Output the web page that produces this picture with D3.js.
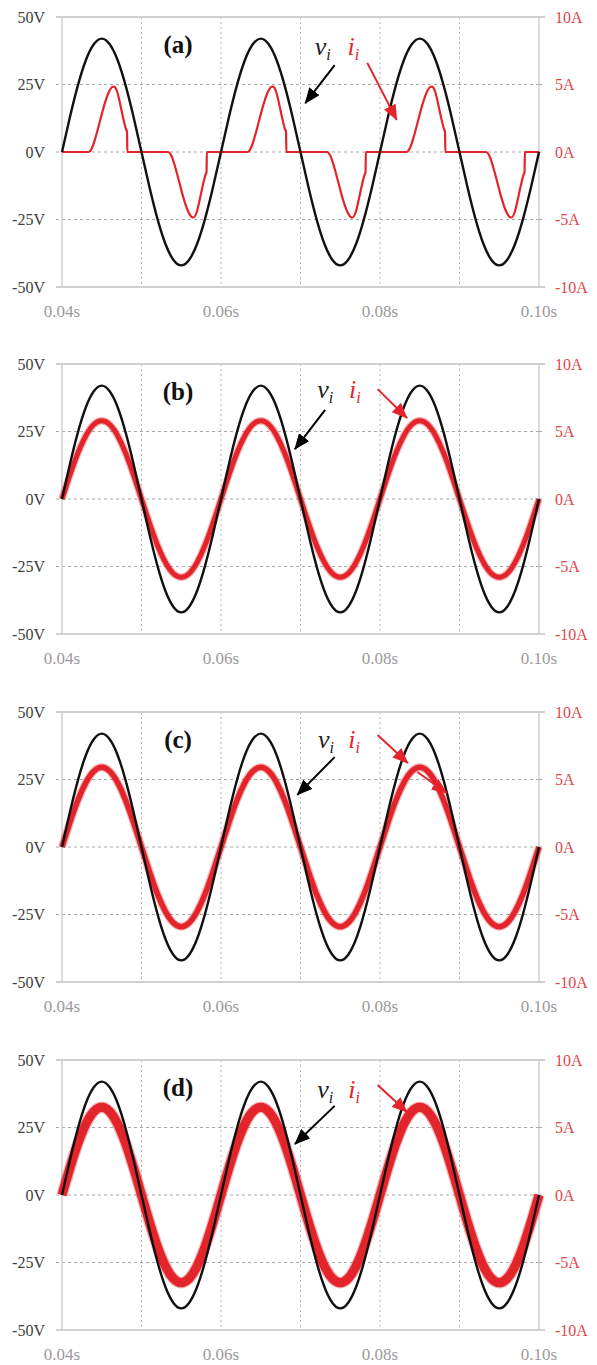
<!DOCTYPE html>
<html>
<head>
<meta charset="utf-8">
<script src="https://cdn.jsdelivr.net/npm/d3@7"></script>
<style>
  body { margin: 0; background: #fff; }
  svg { display: block; }
  text { font-family: "Liberation Serif", "DejaVu Serif", serif; }
</style>
</head>
<body>
<svg id="chart" width="597" height="1365"></svg>
<script>
// ---- data ----
var panelNames = ["(a)", "(b)", "(c)", "(d)"];
var timeTicks = [0.04, 0.05, 0.06, 0.07, 0.08, 0.09, 0.10];
var timeLabels = ["0.04s", "", "0.06s", "", "0.08s", "", "0.10s"];
var voltTicks = [50, 25, 0, -25, -50];
var voltLabels = ["50V", "25V", "0V", "-25V", "-50V"];
var ampLabels = ["10A", "5A", "0A", "-5A", "-10A"];

// one 20 ms period of v_i, sampled every 1 ms (V)
var vPeriod = [0, 13.0, 24.7, 34.0, 39.9, 42.0, 39.9, 34.0, 24.7, 13.0,
               0, -13.0, -24.7, -34.0, -39.9, -42.0, -39.9, -34.0, -24.7, -13.0];

// one period of i_i for (a): [ms, A] (discontinuous conduction)
var iPeriodA = [[0, 0], [3.33, 0], [3.77, 0.3], [4.28, 1.2], [4.78, 2.3], [5.28, 3.4],
  [5.79, 4.3], [6.29, 4.8], [6.54, 4.85], [6.92, 4.5], [7.30, 3.6], [7.67, 2.6],
  [8.05, 1.7], [8.18, 1.5], [8.22, 0], [10, 0], [13.33, 0], [13.77, -0.3],
  [14.28, -1.2], [14.78, -2.3], [15.28, -3.4], [15.79, -4.3], [16.29, -4.8],
  [16.54, -4.85], [16.92, -4.5], [17.30, -3.6], [17.67, -2.6], [18.05, -1.7],
  [18.18, -1.5], [18.22, 0]];

// one period of i_i for (b), (c), (d), sampled every 1 ms (A)
var iPeriodB = [0, 1.79, 3.41, 4.69, 5.52, 5.8, 5.52, 4.69, 3.41, 1.79,
                0, -1.79, -3.41, -4.69, -5.52, -5.8, -5.52, -4.69, -3.41, -1.79];
var iPeriodC = [0, 1.82, 3.47, 4.77, 5.61, 5.9, 5.61, 4.77, 3.47, 1.82,
                0, -1.82, -3.47, -4.77, -5.61, -5.9, -5.61, -4.77, -3.47, -1.82];
var iPeriodD = [0, 2.01, 3.82, 5.26, 6.18, 6.5, 6.18, 5.26, 3.82, 2.01,
                0, -2.01, -3.82, -5.26, -6.18, -6.5, -6.18, -5.26, -3.82, -2.01];

// annotation anchors in (s, V)
var vLabelAt = [[0.0718, 35.9], [0.0721, 37.4], [0.0722, 36.7], [0.0721, 35.9]];
var iLabelAt = [[0.0759, 35.9], [0.0761, 37.4], [0.0760, 36.7], [0.0760, 35.9]];
var vArrows = [[[0.0743, 32.2], [0.0706, 18.1]], [[0.0731, 33.0], [0.0693, 18.5]],
               [[0.0743, 33.3], [0.0696, 19.3]], [[0.0743, 33.0], [0.0693, 18.9]]];
var iArrows = [[[[0.0784, 33.0], [0.0821, 11.9]]],
               [[[0.0797, 40.7], [0.0834, 30.0]]],
               [[[0.0797, 41.5], [0.0835, 31.1]], [[0.0847, 27.8], [0.0884, 20.0]]],
               [[[0.0797, 40.7], [0.0834, 30.7]]]];
var panelLabelAt = [0.0546, 36.7];

// ---- layout ----
var panelTop = [17, 364, 712, 1060];
var plotH = 270, plotL = 62, plotR = 539;
var red = "#e3242b";

var svg = d3.select("#chart");

var defs = svg.append("defs");
function addHead(id, color) {
    defs.append("marker")
        .attr("id", id)
        .attr("markerUnits", "userSpaceOnUse")
        .attr("markerWidth", 16).attr("markerHeight", 13)
        .attr("refX", 15).attr("refY", 6.5)
        .attr("orient", "auto")
        .append("path")
        .attr("d", "M0,0 L16,6.5 L0,13 Z")
        .attr("fill", color);
}
addHead("headBlack", "#000");
addHead("headRed", red);

// tile a sampled period over 0.04..0.10 s
function tileEven(period) {
    var out = [];
    for (var k = 0; k < 3; k++) {
        period.forEach(function (v, j) {
            out.push([0.04 + k * 0.02 + j * 0.001, v]);
        });
    }
    out.push([0.10, period[0]]);
    return out;
}
function tilePairs(period) {
    var out = [];
    for (var k = 0; k < 3; k++) {
        period.forEach(function (p) {
            out.push([0.04 + k * 0.02 + p[0] / 1000, p[1]]);
        });
    }
    out.push([0.10, period[0][1]]);
    return out;
}

var vSeries = tileEven(vPeriod);
var iSeries = [tilePairs(iPeriodA), tileEven(iPeriodB), tileEven(iPeriodC), tileEven(iPeriodD)];
var iWidth = [2.2, 5, 5.5, 9];

var x = d3.scaleLinear().domain([0.04, 0.10]).range([plotL, plotR]);

panelNames.forEach(function (name, p) {
    var top = panelTop[p];
    var yV = d3.scaleLinear().domain([-50, 50]).range([top + plotH, top]);
    var yI = d3.scaleLinear().domain([-10, 10]).range([top + plotH, top]);
    var g = svg.append("g");

    // vertical dotted grid
    g.selectAll(".vg").data(timeTicks.slice(1, -1)).enter().append("line")
        .attr("x1", function (d) { return x(d); }).attr("x2", function (d) { return x(d); })
        .attr("y1", top).attr("y2", top + plotH)
        .attr("stroke", "#b5b5b5").attr("stroke-width", 1)
        .attr("stroke-dasharray", "2,3");

    // horizontal dashed grid
    g.selectAll(".hg").data([25, 0, -25]).enter().append("line")
        .attr("x1", plotL).attr("x2", plotR)
        .attr("y1", function (d) { return yV(d); }).attr("y2", function (d) { return yV(d); })
        .attr("stroke", "#a8a8a8").attr("stroke-width", 1)
        .attr("stroke-dasharray", "3,3");

    // frame (top, bottom, left, right)
    g.selectAll(".fr").data([50, -50]).enter().append("line")
        .attr("x1", plotL - 6).attr("x2", plotR + 6)
        .attr("y1", function (d) { return yV(d); }).attr("y2", function (d) { return yV(d); })
        .attr("stroke", "#cfcfcf").attr("stroke-width", 2);
    g.selectAll(".fv").data([0.04, 0.10]).enter().append("line")
        .attr("x1", function (d) { return x(d); }).attr("x2", function (d) { return x(d); })
        .attr("y1", top).attr("y2", top + plotH)
        .attr("stroke", "#cfcfcf").attr("stroke-width", 1.5);
    g.selectAll(".tkl").data([25, 0, -25]).enter().append("line")
        .attr("x1", plotL - 6).attr("x2", plotL)
        .attr("y1", function (d) { return yV(d); }).attr("y2", function (d) { return yV(d); })
        .attr("stroke", "#a8a8a8").attr("stroke-dasharray", "3,3");
    g.selectAll(".tkr").data([25, 0, -25]).enter().append("line")
        .attr("x1", plotR).attr("x2", plotR + 6)
        .attr("y1", function (d) { return yV(d); }).attr("y2", function (d) { return yV(d); })
        .attr("stroke", "#a8a8a8").attr("stroke-dasharray", "3,3");

    // left axis labels
    g.selectAll(".ll").data(voltTicks).enter().append("text")
        .attr("x", 45).attr("y", function (d) { return yV(d); })
        .attr("dy", "0.35em").attr("text-anchor", "end")
        .attr("font-size", 16).attr("fill", "#404040")
        .text(function (d, i) { return voltLabels[i]; });

    // right axis labels
    g.selectAll(".rl").data(voltTicks).enter().append("text")
        .attr("x", 555).attr("y", function (d) { return yV(d); })
        .attr("dy", "0.35em").attr("text-anchor", "start")
        .attr("font-size", 16).attr("fill", "#e0474c")
        .text(function (d, i) { return ampLabels[i]; });

    // time labels
    g.selectAll(".xl").data(timeTicks).enter().append("text")
        .attr("x", function (d) { return x(d); }).attr("y", top + plotH + 24)
        .attr("dy", "0.35em").attr("text-anchor", "middle")
        .attr("font-size", 17).attr("fill", "#9a9a9a")
        .text(function (d, i) { return timeLabels[i]; });

    // current
    var iLine = d3.line()
        .x(function (d) { return x(d[0]); })
        .y(function (d) { return yI(d[1]); })
        .curve(p === 0 ? d3.curveMonotoneX : d3.curveNatural);
    if (p > 0) {
        // soft halo for the switching ripple
        g.append("path").datum(iSeries[p])
            .attr("d", iLine).attr("fill", "none")
            .attr("stroke", red).attr("stroke-opacity", 0.35)
            .attr("stroke-width", iWidth[p] + 2.5)
            .attr("stroke-linejoin", "round");
    }
    g.append("path").datum(iSeries[p])
        .attr("d", iLine).attr("fill", "none")
        .attr("stroke", red).attr("stroke-width", iWidth[p])
        .attr("stroke-linejoin", "round");

    // voltage
    var vLine = d3.line()
        .x(function (d) { return x(d[0]); })
        .y(function (d) { return yV(d[1]); })
        .curve(d3.curveNatural);
    g.append("path").datum(vSeries)
        .attr("d", vLine).attr("fill", "none")
        .attr("stroke", "#111").attr("stroke-width", 2.4);

    // panel label
    g.append("text")
        .attr("x", x(panelLabelAt[0])).attr("y", yV(panelLabelAt[1]))
        .attr("text-anchor", "middle")
        .attr("font-weight", "bold").attr("font-size", 25)
        .attr("fill", "#111").text(name);

    // v_i / i_i labels
    var vt = g.append("text")
        .attr("x", x(vLabelAt[p][0])).attr("y", yV(vLabelAt[p][1]))
        .attr("font-style", "italic").attr("font-size", 26)
        .attr("fill", "#222");
    vt.append("tspan").text("v");
    vt.append("tspan").attr("font-size", 16).attr("dy", 5).text("i");

    var it = g.append("text")
        .attr("x", x(iLabelAt[p][0])).attr("y", yV(iLabelAt[p][1]))
        .attr("font-style", "italic").attr("font-size", 26)
        .attr("fill", red);
    it.append("tspan").text("i");
    it.append("tspan").attr("font-size", 16).attr("dy", 5).text("i");

    // arrows
    g.append("line")
        .attr("x1", x(vArrows[p][0][0])).attr("y1", yV(vArrows[p][0][1]))
        .attr("x2", x(vArrows[p][1][0])).attr("y2", yV(vArrows[p][1][1]))
        .attr("stroke", "#000").attr("stroke-width", 2)
        .attr("marker-end", "url(#headBlack)");
    iArrows[p].forEach(function (a) {
        g.append("line")
            .attr("x1", x(a[0][0])).attr("y1", yV(a[0][1]))
            .attr("x2", x(a[1][0])).attr("y2", yV(a[1][1]))
            .attr("stroke", red).attr("stroke-width", 2)
            .attr("marker-end", "url(#headRed)");
    });
});
</script>
</body>
</html>
